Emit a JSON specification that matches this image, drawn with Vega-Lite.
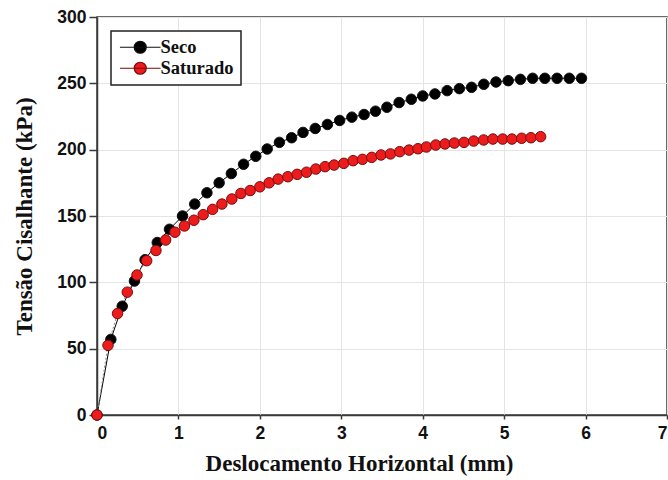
{
  "$schema": "https://vega.github.io/schema/vega-lite/v6.json",
  "width": 570,
  "height": 398,
  "autosize": {"type": "none"},
  "padding": {"left": 97, "top": 17, "right": 1, "bottom": 65},
  "background": "white",
  "config": {
    "view": {"stroke": "#3a3a3a", "strokeWidth": 1.5},
    "axis": {
      "domainColor": "#3a3a3a",
      "domainWidth": 1.5,
      "tickColor": "#3a3a3a",
      "tickWidth": 1.5,
      "gridColor": "#e4e4e4",
      "gridWidth": 1,
      "labelFont": "Liberation Sans",
      "labelFontWeight": "bold",
      "labelFontSize": 17.5,
      "labelColor": "#111",
      "titleFont": "Liberation Serif",
      "titleFontWeight": "bold",
      "titleFontSize": 23,
      "titleColor": "#111"
    },
    "legend": {
      "orient": "top-left",
      "offset": 14,
      "strokeColor": "#222",
      "strokeWidth": 1.5,
      "fillColor": "white",
      "padding": 7,
      "rowPadding": 2,
      "labelFont": "Liberation Serif",
      "labelFontWeight": "bold",
      "labelFontSize": 18.5,
      "labelColor": "#111",
      "labelOffset": 11,
      "symbolOffset": 13,
      "symbolType": "M-2.9,0L2.9,0M-0.857,0A0.857,0.857,0,1,1,0.857,0A0.857,0.857,0,1,1,-0.857,0Z",
      "symbolSize": 196,
      "symbolStrokeWidth": 1.2
    }
  },
  "data": {
    "values": [
      {"serie": "Seco", "desloc": 0, "tensao": 0},
      {"serie": "Seco", "desloc": 0.17, "tensao": 57},
      {"serie": "Seco", "desloc": 0.31, "tensao": 82},
      {"serie": "Seco", "desloc": 0.46, "tensao": 101},
      {"serie": "Seco", "desloc": 0.59, "tensao": 117},
      {"serie": "Seco", "desloc": 0.74, "tensao": 130},
      {"serie": "Seco", "desloc": 0.89, "tensao": 140},
      {"serie": "Seco", "desloc": 1.05, "tensao": 150},
      {"serie": "Seco", "desloc": 1.2, "tensao": 159},
      {"serie": "Seco", "desloc": 1.35, "tensao": 167.5},
      {"serie": "Seco", "desloc": 1.5, "tensao": 175},
      {"serie": "Seco", "desloc": 1.65, "tensao": 182},
      {"serie": "Seco", "desloc": 1.8, "tensao": 189},
      {"serie": "Seco", "desloc": 1.95, "tensao": 195},
      {"serie": "Seco", "desloc": 2.09, "tensao": 200.5},
      {"serie": "Seco", "desloc": 2.24, "tensao": 205.5},
      {"serie": "Seco", "desloc": 2.39, "tensao": 209},
      {"serie": "Seco", "desloc": 2.53, "tensao": 213},
      {"serie": "Seco", "desloc": 2.68, "tensao": 216},
      {"serie": "Seco", "desloc": 2.83, "tensao": 219},
      {"serie": "Seco", "desloc": 2.98, "tensao": 222},
      {"serie": "Seco", "desloc": 3.13, "tensao": 224.5},
      {"serie": "Seco", "desloc": 3.28, "tensao": 226.5},
      {"serie": "Seco", "desloc": 3.42, "tensao": 229},
      {"serie": "Seco", "desloc": 3.56, "tensao": 232},
      {"serie": "Seco", "desloc": 3.71, "tensao": 235.5},
      {"serie": "Seco", "desloc": 3.86, "tensao": 238},
      {"serie": "Seco", "desloc": 4.0, "tensao": 240.5},
      {"serie": "Seco", "desloc": 4.15, "tensao": 242},
      {"serie": "Seco", "desloc": 4.3, "tensao": 244.5},
      {"serie": "Seco", "desloc": 4.45, "tensao": 246},
      {"serie": "Seco", "desloc": 4.6, "tensao": 247},
      {"serie": "Seco", "desloc": 4.75, "tensao": 249.3},
      {"serie": "Seco", "desloc": 4.9, "tensao": 251},
      {"serie": "Seco", "desloc": 5.05, "tensao": 252},
      {"serie": "Seco", "desloc": 5.2, "tensao": 253},
      {"serie": "Seco", "desloc": 5.35, "tensao": 253.8},
      {"serie": "Seco", "desloc": 5.5, "tensao": 253.8},
      {"serie": "Seco", "desloc": 5.65, "tensao": 253.8},
      {"serie": "Seco", "desloc": 5.8, "tensao": 253.8},
      {"serie": "Seco", "desloc": 5.95, "tensao": 253.8},
      {"serie": "Saturado", "desloc": 0, "tensao": 0},
      {"serie": "Saturado", "desloc": 0.135, "tensao": 52.5},
      {"serie": "Saturado", "desloc": 0.252, "tensao": 76.5},
      {"serie": "Saturado", "desloc": 0.372, "tensao": 92.6},
      {"serie": "Saturado", "desloc": 0.491, "tensao": 105.5},
      {"serie": "Saturado", "desloc": 0.61, "tensao": 116.3},
      {"serie": "Saturado", "desloc": 0.724, "tensao": 124},
      {"serie": "Saturado", "desloc": 0.843, "tensao": 131.9},
      {"serie": "Saturado", "desloc": 0.957, "tensao": 137.8},
      {"serie": "Saturado", "desloc": 1.074, "tensao": 142.5},
      {"serie": "Saturado", "desloc": 1.19, "tensao": 146.8},
      {"serie": "Saturado", "desloc": 1.304, "tensao": 151},
      {"serie": "Saturado", "desloc": 1.42, "tensao": 155},
      {"serie": "Saturado", "desloc": 1.534, "tensao": 159},
      {"serie": "Saturado", "desloc": 1.656, "tensao": 162.8},
      {"serie": "Saturado", "desloc": 1.767, "tensao": 167},
      {"serie": "Saturado", "desloc": 1.881, "tensao": 169.2},
      {"serie": "Saturado", "desloc": 2.0, "tensao": 172},
      {"serie": "Saturado", "desloc": 2.114, "tensao": 175},
      {"serie": "Saturado", "desloc": 2.225, "tensao": 177.8},
      {"serie": "Saturado", "desloc": 2.344, "tensao": 179.6},
      {"serie": "Saturado", "desloc": 2.458, "tensao": 181.4},
      {"serie": "Saturado", "desloc": 2.573, "tensao": 183},
      {"serie": "Saturado", "desloc": 2.687, "tensao": 185.4},
      {"serie": "Saturado", "desloc": 2.801, "tensao": 187.2},
      {"serie": "Saturado", "desloc": 2.912, "tensao": 188.4},
      {"serie": "Saturado", "desloc": 3.031, "tensao": 189.7},
      {"serie": "Saturado", "desloc": 3.145, "tensao": 191.7},
      {"serie": "Saturado", "desloc": 3.26, "tensao": 192.7},
      {"serie": "Saturado", "desloc": 3.374, "tensao": 194.2},
      {"serie": "Saturado", "desloc": 3.488, "tensao": 196},
      {"serie": "Saturado", "desloc": 3.604, "tensao": 196.8},
      {"serie": "Saturado", "desloc": 3.718, "tensao": 198.5},
      {"serie": "Saturado", "desloc": 3.832, "tensao": 199.7},
      {"serie": "Saturado", "desloc": 3.942, "tensao": 200.7},
      {"serie": "Saturado", "desloc": 4.045, "tensao": 202},
      {"serie": "Saturado", "desloc": 4.16, "tensao": 203.5},
      {"serie": "Saturado", "desloc": 4.274, "tensao": 204.3},
      {"serie": "Saturado", "desloc": 4.389, "tensao": 205},
      {"serie": "Saturado", "desloc": 4.507, "tensao": 205.5},
      {"serie": "Saturado", "desloc": 4.626, "tensao": 206.5},
      {"serie": "Saturado", "desloc": 4.748, "tensao": 207.3},
      {"serie": "Saturado", "desloc": 4.862, "tensao": 208},
      {"serie": "Saturado", "desloc": 4.982, "tensao": 208},
      {"serie": "Saturado", "desloc": 5.096, "tensao": 208},
      {"serie": "Saturado", "desloc": 5.215, "tensao": 208.6},
      {"serie": "Saturado", "desloc": 5.329, "tensao": 209},
      {"serie": "Saturado", "desloc": 5.448, "tensao": 209.8}
    ]
  },
  "encoding": {
    "x": {
      "field": "desloc",
      "type": "quantitative",
      "scale": {"domain": [0, 7], "nice": false},
      "axis": {
        "title": "Deslocamento Horizontal (mm)",
        "values": [0, 1, 2, 3, 4, 5, 6, 7],
        "tickSize": 4,
        "labelPadding": 5,
        "titleX": 262,
        "titleY": 55,
        "titleBaseline": "alphabetic",
        "titleAlign": "center"
      }
    },
    "y": {
      "field": "tensao",
      "type": "quantitative",
      "scale": {"domain": [0, 300], "nice": false},
      "axis": {
        "title": "Tensão Cisalhante (kPa)",
        "values": [0, 50, 100, 150, 200, 250, 300],
        "tickSize": 8,
        "labelPadding": 3,
        "titleX": -66,
        "titleY": 199,
        "titleAngle": -90,
        "titleBaseline": "alphabetic",
        "titleAlign": "center"
      }
    }
  },
  "layer": [
    {
      "transform": [{"filter": "datum.serie === 'Seco'"}],
      "mark": {"type": "line", "color": "#000", "strokeWidth": 1}
    },
    {
      "transform": [{"filter": "datum.serie === 'Saturado'"}],
      "mark": {"type": "line", "color": "#888", "strokeWidth": 1, "strokeDash": [2, 2]}
    },
    {
      "mark": {"type": "point", "filled": true, "size": 110, "strokeWidth": 1, "opacity": 1},
      "encoding": {
        "fill": {
          "field": "serie",
          "type": "nominal",
          "scale": {"domain": ["Seco", "Saturado"], "range": ["#000000", "#ec1c1c"]},
          "legend": {"title": null}
        },
        "stroke": {
          "field": "serie",
          "type": "nominal",
          "scale": {"domain": ["Seco", "Saturado"], "range": ["#111111", "#7a0a0a"]},
          "legend": {"title": null}
        }
      }
    }
  ]
}
